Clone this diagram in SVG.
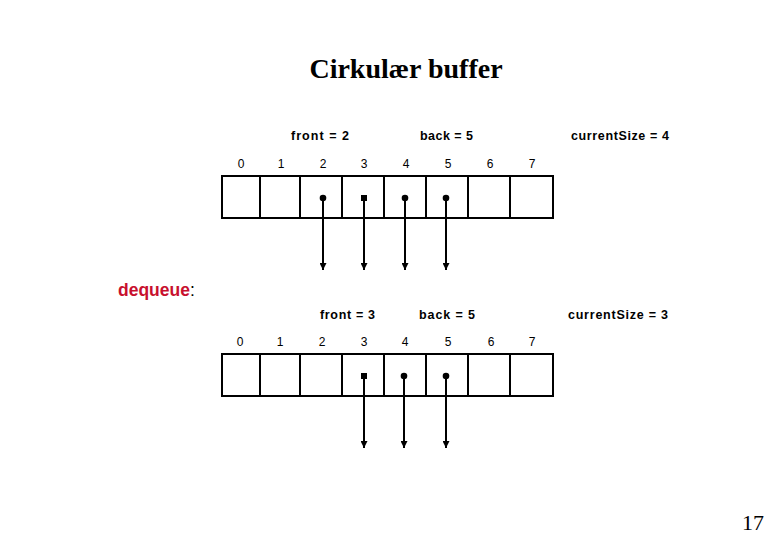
<svg xmlns="http://www.w3.org/2000/svg" width="780" height="540" viewBox="0 0 780 540">
<defs>
<marker id="ah" viewBox="0 0 6 6" refX="6" refY="3" markerWidth="7" markerHeight="7" markerUnits="userSpaceOnUse" orient="auto">
<path d="M0,0 L6,3 L0,6 Z" fill="#000"/>
</marker>
</defs>
<style>
.title{font-family:"Liberation Serif","Times New Roman",serif;font-weight:bold;font-size:28px;fill:#000}
.lbl{font-family:"Liberation Sans",Arial,sans-serif;font-weight:bold;font-size:12.5px;fill:#000}
.idx{font-family:"Liberation Sans",Arial,sans-serif;font-size:12px;fill:#000}
.cell{fill:#fff;stroke:#000;stroke-width:2}
.ptr{stroke:#000;stroke-width:2;fill:none;marker-end:url(#ah)}
.dq{font-family:"Liberation Sans",Arial,sans-serif;font-size:17.5px}
.pg{font-family:"Liberation Serif","Times New Roman",serif;font-size:22px;fill:#000}
</style>
<rect width="780" height="540" fill="#fff"/>
<text class="title" x="406" y="78" text-anchor="middle">Cirkulær buffer</text>

<g id="state1">
<g id="labels1">
<text class="lbl" x="291" y="140" textLength="58" lengthAdjust="spacing">front = 2</text>
<text class="lbl" x="420" y="140" textLength="53" lengthAdjust="spacing">back = 5</text>
<text class="lbl" x="571" y="140" textLength="98" lengthAdjust="spacing">currentSize = 4</text>
</g>
<g id="indices1" text-anchor="middle">
<text class="idx" x="241" y="168">0</text>
<text class="idx" x="281" y="168">1</text>
<text class="idx" x="323" y="168">2</text>
<text class="idx" x="364" y="168">3</text>
<text class="idx" x="406" y="168">4</text>
<text class="idx" x="448" y="168">5</text>
<text class="idx" x="490" y="168">6</text>
<text class="idx" x="532" y="168">7</text>
</g>
<g id="array1">
<rect class="cell" x="222" y="176" width="38" height="42"/>
<rect class="cell" x="260" y="176" width="40" height="42"/>
<rect class="cell" x="300" y="176" width="42" height="42"/>
<rect class="cell" x="342" y="176" width="42" height="42"/>
<rect class="cell" x="384" y="176" width="42" height="42"/>
<rect class="cell" x="426" y="176" width="42" height="42"/>
<rect class="cell" x="468" y="176" width="42" height="42"/>
<rect class="cell" x="510" y="176" width="43" height="42"/>
</g>
</g>

<g id="state2">
<text x="118" y="296" class="dq"><tspan font-weight="bold" fill="#c8102e">dequeue</tspan><tspan fill="#000">:</tspan></text>
<g id="labels2">
<text class="lbl" x="320" y="319" textLength="55" lengthAdjust="spacing">front = 3</text>
<text class="lbl" x="419" y="319" textLength="56" lengthAdjust="spacing">back = 5</text>
<text class="lbl" x="568" y="319" textLength="100" lengthAdjust="spacing">currentSize = 3</text>
</g>
<g id="indices2" text-anchor="middle">
<text class="idx" x="240" y="346">0</text>
<text class="idx" x="280" y="346">1</text>
<text class="idx" x="322" y="346">2</text>
<text class="idx" x="364" y="346">3</text>
<text class="idx" x="405" y="346">4</text>
<text class="idx" x="448" y="346">5</text>
<text class="idx" x="491" y="346">6</text>
<text class="idx" x="532" y="346">7</text>
</g>
<g id="array2">
<rect class="cell" x="222" y="354" width="38" height="42"/>
<rect class="cell" x="260" y="354" width="40" height="42"/>
<rect class="cell" x="300" y="354" width="42" height="42"/>
<rect class="cell" x="342" y="354" width="42" height="42"/>
<rect class="cell" x="384" y="354" width="42" height="42"/>
<rect class="cell" x="426" y="354" width="42" height="42"/>
<rect class="cell" x="468" y="354" width="42" height="42"/>
<rect class="cell" x="510" y="354" width="43" height="42"/>
</g>
</g>

<g id="connectors">
<line class="ptr" x1="323" y1="198" x2="323" y2="270"/>
<line class="ptr" x1="364" y1="198" x2="364" y2="270"/>
<line class="ptr" x1="405" y1="198" x2="405" y2="270"/>
<line class="ptr" x1="446" y1="198" x2="446" y2="270"/>
<circle cx="323" cy="198" r="3.3"/>
<rect x="361" y="195" width="6" height="6"/>
<circle cx="405" cy="198" r="3.3"/>
<circle cx="446" cy="198" r="3.3"/>

<line class="ptr" x1="364" y1="376" x2="364" y2="448"/>
<line class="ptr" x1="404" y1="376" x2="404" y2="448"/>
<line class="ptr" x1="446" y1="376" x2="446" y2="448"/>
<rect x="361" y="373" width="6" height="6"/>
<circle cx="404" cy="376" r="3.3"/>
<circle cx="446" cy="376" r="3.3"/>
</g>

<text class="pg" x="742" y="530">17</text>
</svg>
